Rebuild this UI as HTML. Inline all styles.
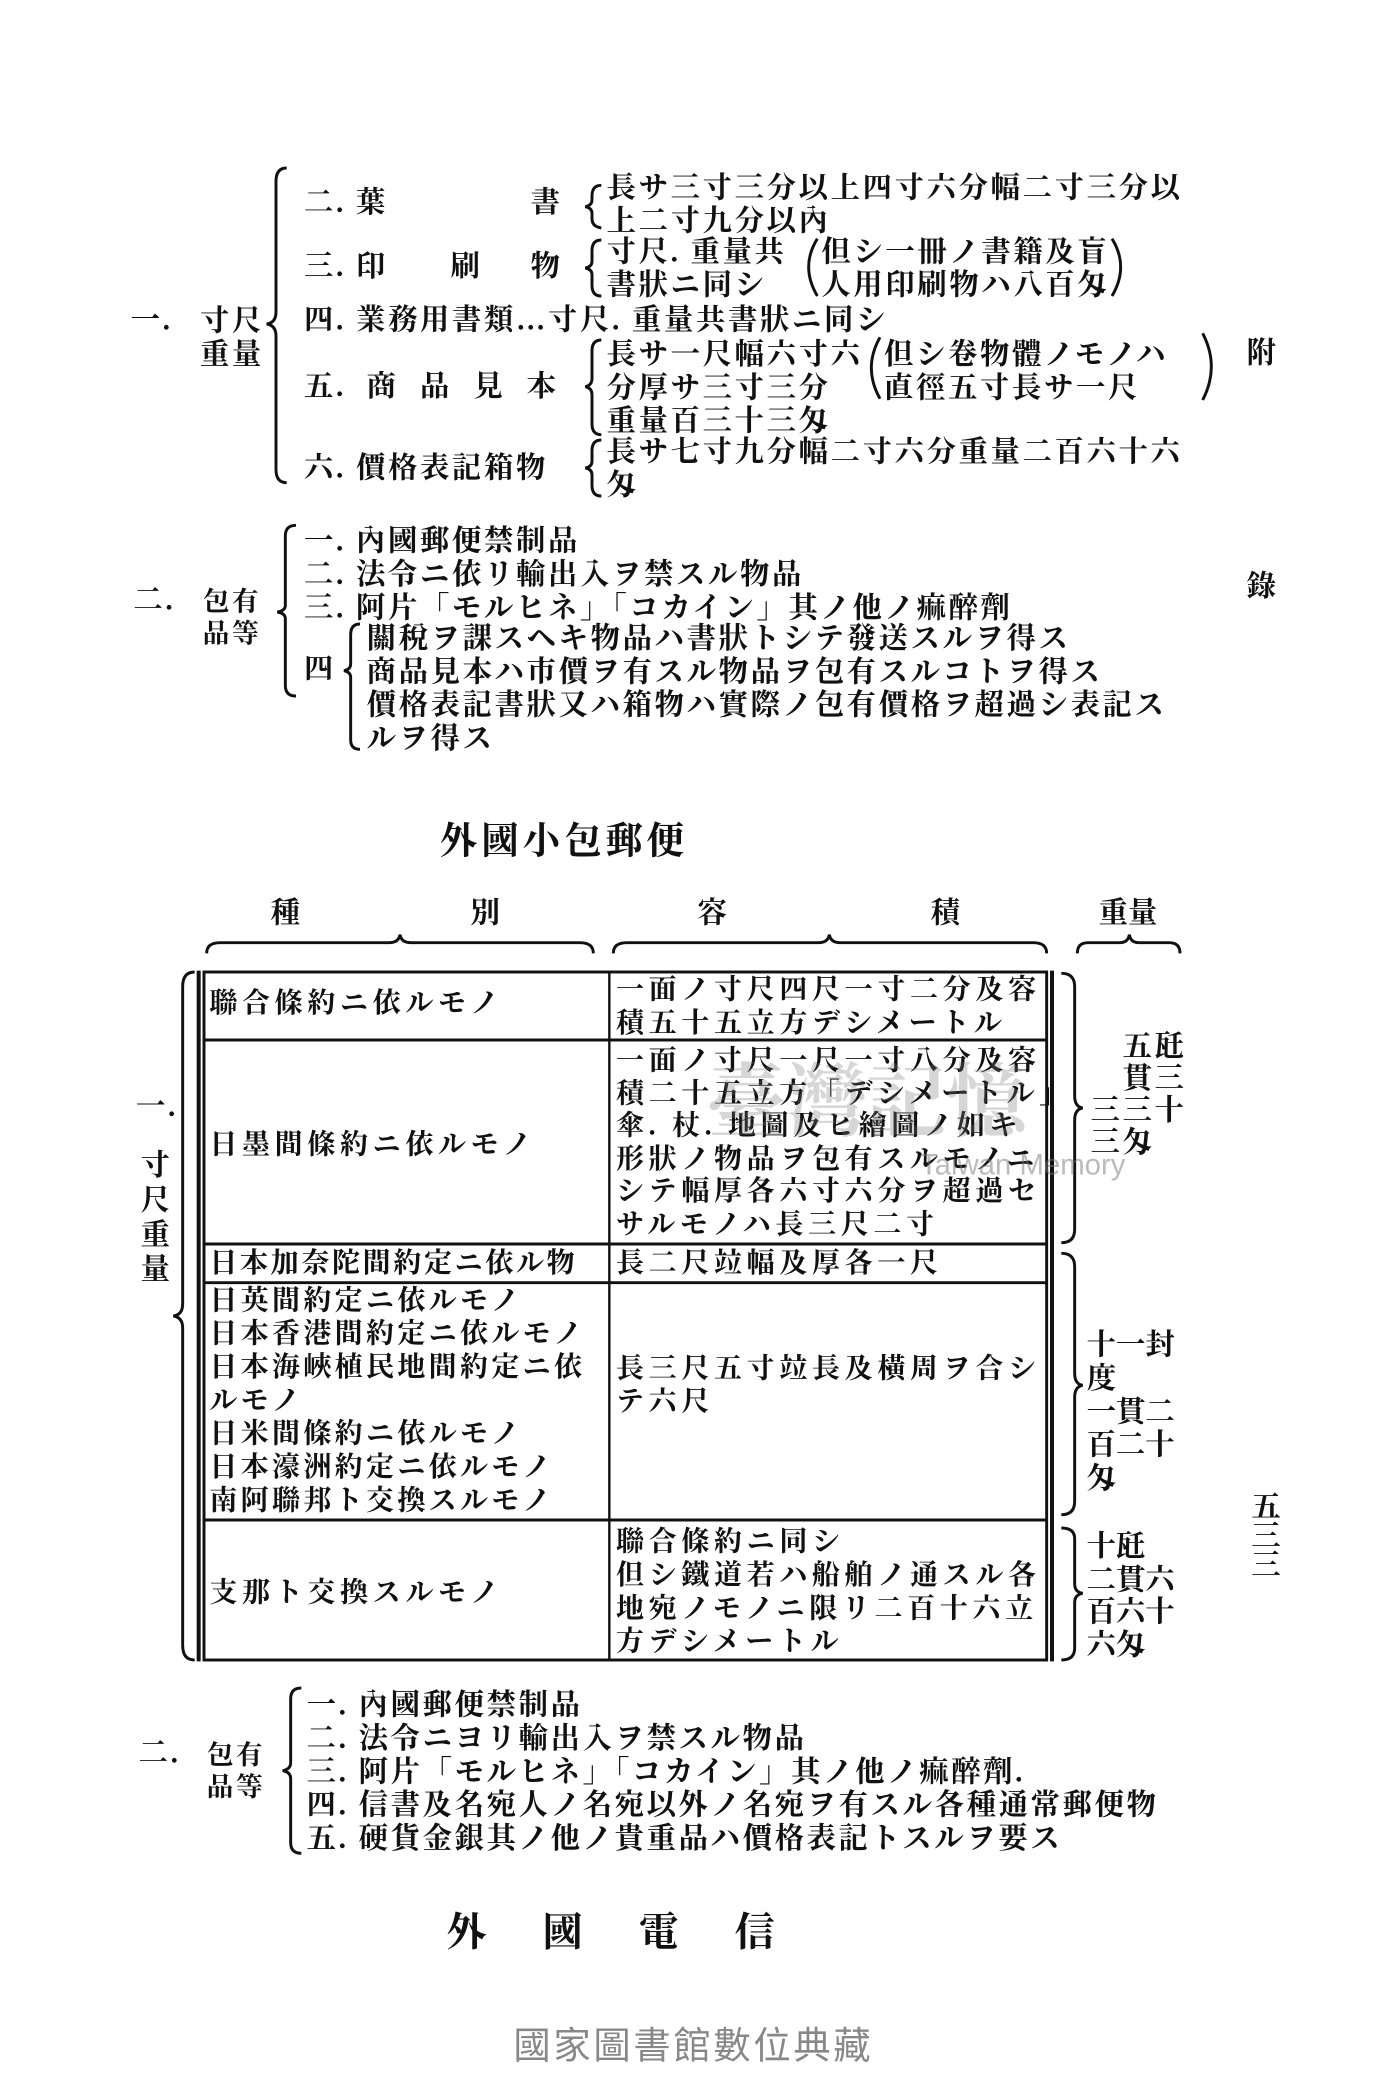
<!DOCTYPE html>
<html><head><meta charset="utf-8">
<style>
html,body{margin:0;padding:0;background:#fff;}
body{width:1400px;height:2100px;overflow:hidden;position:relative;}
#w{position:absolute;left:0;top:0;width:1050px;height:1575px;transform:scale(1.33333);transform-origin:0 0;}
.t{position:absolute;white-space:nowrap;font-family:"Liberation Serif","Noto Serif CJK JP","Noto Serif CJK SC",serif;font-weight:bold;font-size:22px;line-height:24px;letter-spacing:2px;color:#111;}
.s{font-size:21px;letter-spacing:3.5px;}
.v{writing-mode:vertical-rl;}
svg{position:absolute;left:0;top:0;}
</style></head><body><div id="w">
<svg width="1050" height="1575" viewBox="0 0 1050 1575" fill="none" stroke="#111" stroke-width="2.2">
<path d="M215 126 Q207 126 207 136 L207 234 Q207 242 200 243 Q207 244 207 252 L207 352 Q207 362 215 362"/>
<path d="M451 139 Q444 139 444 147 L444 150 Q444 154 439 155 Q444 156 444 160 L444 164 Q444 170 451 171"/>
<path d="M451 180 Q444 180 444 188 L444 196 Q444 200 439 201 Q444 202 444 206 L444 214 Q444 222 451 222"/>
<path d="M451 255 Q444 255 444 263 L444 284 Q444 289 439 290 Q444 291 444 296 L444 318 Q444 326 451 326"/>
<path d="M451 330 Q444 330 444 338 L444 346 Q444 350 439 351 Q444 352 444 356 L444 364 Q444 372 451 372"/>
<path d="M613 179 Q600 200 613 222"/><path d="M834 179 Q847 200 834 222"/>
<path d="M660 253 Q647 276 660 299"/><path d="M902 250 Q915 275 902 300"/>
<path d="M222 394 Q214 394 214 402 L214 454 Q214 458 208 459 Q214 460 214 464 L214 514 Q214 522 222 522"/>
<path d="M270 468 Q263 468 263 476 L263 498 Q263 502 258 503 Q263 504 263 508 L263 555 Q263 562 270 562"/>
<path d="M155 715 Q155 707 165 707 L292 707 Q299 707 300 701 Q301 707 308 707 L435 707 Q445 707 445 715"/>
<path d="M460 715 Q460 707 470 707 L614 707 Q621 707 622 701 Q623 707 630 707 L775 707 Q785 707 785 715"/>
<path d="M808 715 Q808 707 816 707 L840 707 Q846 707 847 701 Q848 707 854 707 L877 707 Q885 707 885 715"/>
<path d="M146 729 Q137 729 137 740 L137 978 Q137 986 130 987 Q137 988 137 996 L137 1234 Q137 1245 146 1245"/>
<rect x="153" y="729" width="632" height="516" stroke-width="2.2"/>
<line x1="149" y1="728" x2="149" y2="1246" stroke-width="3"/>
<line x1="789" y1="728" x2="789" y2="1246" stroke-width="3"/>
<line x1="457" y1="729" x2="457" y2="1245" stroke-width="1.8"/>
<line x1="153" y1="780" x2="785" y2="780"/>
<line x1="153" y1="933" x2="785" y2="933"/>
<line x1="153" y1="962" x2="785" y2="962"/>
<line x1="153" y1="1140" x2="785" y2="1140"/>
<path d="M796 730 Q806 730 806 740 L806 822 Q806 830 812 831 Q806 832 806 840 L806 922 Q806 932 796 932"/>
<path d="M796 940 Q806 940 806 950 L806 1030 Q806 1038 812 1039 Q806 1040 806 1048 L806 1126 Q806 1136 796 1136"/>
<path d="M796 1146 Q806 1146 806 1154 L806 1188 Q806 1194 812 1195 Q806 1196 806 1202 L806 1236 Q806 1245 796 1245"/>
<path d="M226 1266 Q218 1266 218 1274 L218 1322 Q218 1327 212 1328 Q218 1329 218 1334 L218 1382 Q218 1390 226 1390"/>
</svg>

<div class="t" style="left:98px;top:228px">一.</div>
<div class="t" style="left:150px;top:228px;line-height:25px">寸尺<br>重量</div>
<div class="t" style="left:228px;top:140px">二. 葉</div><div class="t" style="left:398px;top:140px">書</div>
<div class="t" style="left:228px;top:188px">三. 印</div><div class="t" style="left:338px;top:188px">刷</div><div class="t" style="left:398px;top:188px">物</div>
<div class="t" style="left:228px;top:228px">四. 業務用書類…寸尺. 重量共書狀ニ同シ</div>
<div class="t" style="left:228px;top:278px">五.</div>
<div class="t" style="left:275px;top:278px;letter-spacing:18px">商品見本</div>
<div class="t" style="left:228px;top:339px">六. 價格表記箱物</div>
<div class="t" style="left:455px;top:128px;line-height:25px">長サ三寸三分以上四寸六分幅二寸三分以<br>上二寸九分以內</div>
<div class="t" style="left:455px;top:176px;line-height:25px">寸尺. 重量共<br>書狀ニ同シ</div>
<div class="t" style="left:616px;top:176px;line-height:25px">但シ一冊ノ書籍及盲<br>人用印刷物ハ八百匁</div>
<div class="t" style="left:455px;top:253px;line-height:25px">長サ一尺幅六寸六<br>分厚サ三寸三分<br>重量百三十三匁</div>
<div class="t" style="left:663px;top:253px;line-height:25px">但シ卷物體ノモノハ<br>直徑五寸長サ一尺</div>
<div class="t" style="left:455px;top:326px;line-height:25px">長サ七寸九分幅二寸六分重量二百六十六<br>匁</div>
<div class="t" style="left:935px;top:253px">附</div>
<div class="t" style="left:935px;top:428px">錄</div>

<div class="t" style="left:100px;top:438px">二.</div>
<div class="t" style="left:152px;top:440px;font-size:20px;line-height:24px">包有<br>品等</div>
<div class="t" style="left:228px;top:393px;line-height:25px">一. 內國郵便禁制品<br>二. 法令ニ依リ輸出入ヲ禁スル物品<br>三. 阿片「モルヒネ」「コカイン」其ノ他ノ痲醉劑</div>
<div class="t" style="left:228px;top:490px">四</div>
<div class="t" style="left:275px;top:466px;line-height:25px">關稅ヲ課スヘキ物品ハ書狀トシテ發送スルヲ得ス<br>商品見本ハ市價ヲ有スル物品ヲ包有スルコトヲ得ス<br>價格表記書狀又ハ箱物ハ實際ノ包有價格ヲ超過シ表記ス<br>ルヲ得ス</div>

<div class="t" style="left:330px;top:616px;font-size:28px;line-height:32px;letter-spacing:3px">外國小包郵便</div>

<div class="t" style="left:203px;top:673px">種</div><div class="t" style="left:353px;top:673px">別</div>
<div class="t" style="left:523px;top:673px">容</div><div class="t" style="left:698px;top:673px">積</div>
<div class="t" style="left:824px;top:673px;letter-spacing:0">重量</div>

<div class="t" style="left:102px;top:818px">一.</div>
<div class="t v" style="left:103px;top:862px;letter-spacing:4px">寸尺重量</div>

<div class="t s" style="left:157px;top:740px">聯合條約ニ依ルモノ</div>
<div class="t s" style="left:462px;top:730px;line-height:25px">一面ノ寸尺四尺一寸二分及容<br>積五十五立方デシメートル</div>
<div class="t s" style="left:157px;top:846px">日墨間條約ニ依ルモノ</div>
<div class="t s" style="left:462px;top:783px;line-height:24.5px">一面ノ寸尺一尺一寸八分及容<br>積二十五立方「デシメートル」<br>傘. 杖. 地圖及ヒ繪圖ノ如キ<br>形狀ノ物品ヲ包有スルモノニ<br>シテ幅厚各六寸六分ヲ超過セ<br>サルモノハ長三尺二寸</div>
<div class="t s" style="left:157px;top:935px;letter-spacing:2px">日本加奈陀間約定ニ依ル物</div>
<div class="t s" style="left:462px;top:935px">長二尺竝幅及厚各一尺</div>
<div class="t s" style="left:157px;top:963px;line-height:25px;letter-spacing:2.5px">日英間約定ニ依ルモノ<br>日本香港間約定ニ依ルモノ<br>日本海峽植民地間約定ニ依<br>ルモノ<br>日米間條約ニ依ルモノ<br>日本濠洲約定ニ依ルモノ<br>南阿聯邦ト交換スルモノ</div>
<div class="t s" style="left:462px;top:1014px;line-height:25px">長三尺五寸竝長及橫周ヲ合シ<br>テ六尺</div>
<div class="t s" style="left:157px;top:1182px">支那ト交換スルモノ</div>
<div class="t s" style="left:462px;top:1144px;line-height:25px">聯合條約ニ同シ<br>但シ鐵道若ハ船舶ノ通スル各<br>地宛ノモノニ限リ二百十六立<br>方デシメートル</div>

<div class="t" style="left:818px;top:773px;line-height:24px;letter-spacing:2px">&#12288;五瓩<br>&#12288;貫三<br>三三十<br>三匁</div>
<div class="t" style="left:815px;top:996px;line-height:25px;letter-spacing:0">十一封<br>度<br>一貫二<br>百二十<br>匁</div>
<div class="t" style="left:815px;top:1148px;line-height:24.5px;letter-spacing:0">十瓩<br>二貫六<br>百六十<br>六匁</div>
<div class="t v" style="left:936px;top:1118px;letter-spacing:0">五三三</div>

<div class="t" style="left:530px;top:795px;font-size:60px;line-height:64px;color:rgba(120,120,120,0.3);letter-spacing:0">臺灣記憶</div>
<div class="t" style="left:690px;top:862px;font-size:22px;font-weight:normal;color:rgba(120,120,120,0.5);letter-spacing:0;font-family:'Liberation Sans',sans-serif">Taiwan Memory</div>

<div class="t" style="left:104px;top:1303px">二.</div>
<div class="t" style="left:155px;top:1305px;font-size:20px;line-height:24px">包有<br>品等</div>
<div class="t" style="left:230px;top:1266px;line-height:25px">一. 內國郵便禁制品<br>二. 法令ニヨリ輸出入ヲ禁スル物品<br>三. 阿片「モルヒネ」「コカイン」其ノ他ノ痲醉劑.<br>四. 信書及名宛人ノ名宛以外ノ名宛ヲ有スル各種通常郵便物<br>五. 硬貨金銀其ノ他ノ貴重品ハ價格表記トスルヲ要ス</div>

<div class="t" style="left:335px;top:1433px;font-size:30px;line-height:34px;letter-spacing:42px">外國電信</div>

<div class="t" style="left:385px;top:1518px;font-size:28px;line-height:34px;font-weight:normal;color:#888;letter-spacing:2px;font-family:'Liberation Sans','Noto Sans CJK TC',sans-serif">國家圖書館數位典藏</div>
</div></body></html>
